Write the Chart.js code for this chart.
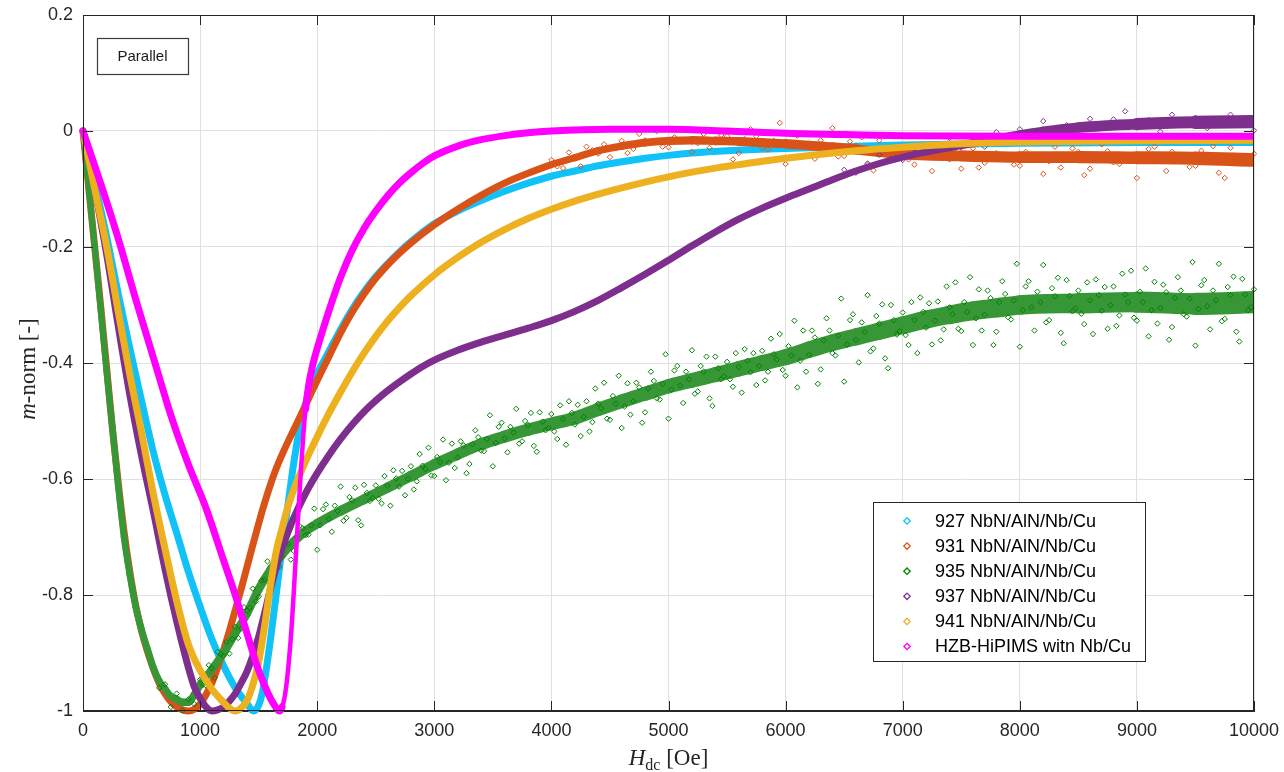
<!DOCTYPE html>
<html>
<head>
<meta charset="utf-8">
<title>m-norm vs Hdc</title>
<script src="https://cdn.jsdelivr.net/npm/chart.js@4.4.1/dist/chart.umd.min.js"></script>
<style>
  html, body { margin: 0; padding: 0; background: #fff; }
  #wrap { position: relative; width: 1284px; height: 772px; }
</style>
</head>
<body>
<div id="wrap"><canvas id="chart"></canvas></div>
<script>
const seriesNames = ['927 NbN/AlN/Nb/Cu', '931 NbN/AlN/Nb/Cu', '935 NbN/AlN/Nb/Cu', '937 NbN/AlN/Nb/Cu', '941 NbN/AlN/Nb/Cu', 'HZB-HiPIMS witn Nb/Cu'];
const seriesColors = ['#10c2f7', '#d95319', '#008000', '#7e2f8e', '#edb120', '#ff00ff'];
const xTicks = [0, 1000, 2000, 3000, 4000, 5000, 6000, 7000, 8000, 9000, 10000];
const yTicks = [-1, -0.8, -0.6, -0.4, -0.2, 0, 0.2];

// 927
const h927 = [0,100,200,300,400,500,600,700,800,900,1000,1100,1200,1300,1400,1455,1500,1530,1560,1600,1640,1680,1720,1760,1800,1850,1900,1950,2000,2100,2200,2300,2400,2500,2600,2700,2800,3000,3200,3400,3600,3800,4000,4200,4400,4600,4800,5000,5200,5500,6000,6500,7000,8000,9000,10000];
const m927 = [0,-0.09,-0.18,-0.28,-0.375,-0.465,-0.553,-0.627,-0.693,-0.76,-0.82,-0.876,-0.922,-0.96,-0.987,-1.0,-0.99,-0.97,-0.935,-0.878,-0.815,-0.75,-0.69,-0.63,-0.572,-0.512,-0.47,-0.44,-0.418,-0.38,-0.342,-0.307,-0.277,-0.251,-0.229,-0.209,-0.191,-0.16,-0.138,-0.12,-0.104,-0.09,-0.078,-0.069,-0.06,-0.053,-0.047,-0.042,-0.038,-0.034,-0.03,-0.027,-0.024,-0.021,-0.02,-0.02];

// 931
const h931 = [0,50,100,150,200,250,300,350,400,450,500,550,600,650,700,750,800,850,900,950,1000,1050,1100,1150,1200,1250,1300,1350,1400,1450,1500,1550,1600,1650,1700,1750,1800,1850,1900,1950,2000,2100,2200,2300,2400,2500,2600,2700,2800,3000,3200,3400,3600,3800,4000,4200,4400,4600,4800,5000,5200,5400,5600,5800,6000,6200,6400,6600,6800,7000,7500,8000,8500,9000,9500,10000];
const m931 = [0,-0.1,-0.2,-0.3,-0.405,-0.51,-0.605,-0.69,-0.76,-0.818,-0.862,-0.897,-0.927,-0.952,-0.97,-0.984,-0.993,-0.998,-1.0,-0.997,-0.988,-0.972,-0.952,-0.925,-0.895,-0.862,-0.826,-0.79,-0.752,-0.714,-0.677,-0.642,-0.61,-0.582,-0.558,-0.536,-0.515,-0.494,-0.473,-0.451,-0.43,-0.389,-0.348,-0.312,-0.281,-0.254,-0.231,-0.211,-0.193,-0.162,-0.135,-0.111,-0.09,-0.073,-0.058,-0.046,-0.034,-0.026,-0.02,-0.017,-0.016,-0.017,-0.018,-0.02,-0.022,-0.025,-0.028,-0.032,-0.036,-0.04,-0.043,-0.045,-0.045,-0.046,-0.047,-0.05];
const h931s = [4000,4100,4200,4300,4400,4500,4600,4700,4800,4900,5000,5100,5200,5300,5400,5500,5600,5700,5800,5900,6000,6100,6200,6300,6400,6500,6600,6700,6800,6900,7000,7100,7200,7300,7400,7500,7600,7700,7800,7900,8000,8100,8200,8300,8400,8500,8600,8700,8800,8900,9000,9100,9200,9300,9400,9500,9600,9700,9800,9900,10000];
const m931s = [-0.050,-0.064,-0.045,-0.027,-0.039,-0.045,-0.017,-0.031,-0.016,0.000,-0.028,-0.017,-0.036,-0.005,-0.020,-0.009,-0.038,0.003,-0.029,-0.017,-0.057,-0.008,-0.027,-0.016,0.005,-0.043,-0.025,-0.058,-0.016,-0.045,-0.029,-0.058,-0.039,-0.022,-0.049,-0.065,-0.030,-0.055,-0.038,-0.018,-0.060,-0.045,-0.074,-0.027,-0.049,-0.036,-0.065,-0.023,-0.054,-0.041,-0.081,-0.031,-0.049,-0.036,-0.014,-0.060,-0.041,-0.072,-0.029,-0.056,-0.039];
const h931b = [4050,4150,4250,4350,4450,4550,4650,4750,4850,4950,5050,5150,5250,5350,5450,5550,5650,5750,5850,5950,6050,6150,6250,6350,6450,6550,6650,6750,6850,6950,7050,7150,7250,7350,7450,7550,7650,7750,7850,7950,8050,8150,8250,8350,8450,8550,8650,8750,8850,8950,9050,9150,9250,9350,9450,9550,9650,9750,9850,9950];
const m931b = [-0.061,-0.037,-0.061,-0.033,-0.023,-0.030,-0.038,-0.005,-0.019,-0.027,-0.011,0.004,-0.021,-0.029,-0.007,-0.049,-0.014,-0.009,-0.032,0.014,-0.027,-0.004,-0.048,-0.025,-0.044,-0.018,-0.011,-0.068,-0.030,-0.043,-0.049,-0.024,-0.069,-0.036,-0.030,-0.045,-0.063,-0.020,-0.044,-0.058,-0.036,-0.016,-0.052,-0.063,-0.030,-0.076,-0.041,-0.035,-0.057,-0.011,-0.051,-0.027,-0.069,-0.045,-0.062,-0.034,-0.026,-0.081,-0.043,-0.054];

// 935
const h935 = [0,50,100,150,200,250,300,350,400,450,500,550,600,650,700,750,800,850,900,950,1000,1100,1200,1300,1400,1500,1600,1700,1800,1900,2000,2200,2400,2600,2800,3000,3200,3400,3600,3800,4000,4200,4400,4600,4800,5000,5200,5400,5600,5800,6000,6200,6400,6600,6800,7000,7200,7400,7600,7800,8000,8500,9000,9500,10000];
const m935 = [0,-0.1,-0.2,-0.305,-0.41,-0.51,-0.61,-0.7,-0.765,-0.82,-0.86,-0.893,-0.925,-0.948,-0.962,-0.975,-0.98,-0.985,-0.985,-0.972,-0.955,-0.928,-0.9,-0.866,-0.832,-0.79,-0.757,-0.73,-0.708,-0.69,-0.677,-0.655,-0.635,-0.615,-0.595,-0.575,-0.557,-0.54,-0.527,-0.515,-0.505,-0.495,-0.48,-0.466,-0.453,-0.44,-0.43,-0.42,-0.41,-0.4,-0.39,-0.377,-0.365,-0.355,-0.345,-0.335,-0.325,-0.317,-0.31,-0.305,-0.3,-0.297,-0.295,-0.298,-0.295];
const h935s = [650,700,750,800,850,900,950,
  1000,1050,1100,1150,1200,1250,1300,1350,1400,1450,1500,1550,1600,1650,1700,1750,1800,1850,1900,1950,
  2000,2050,2100,2150,2200,2250,2300,2350,2400,2450,2500,2550,2600,2650,2700,2750,2800,2850,2900,2950,
  3000,3050,3100,3150,3200,3250,3300,3350,3400,3450,3500,3550,3600,3650,3700,3750,3800,3850,3900,3950,
  4000,4050,4100,4150,4200,4250,4300,4350,4400,4450,4500,4550,4600,4650,4700,4750,4800,4850,4900,4950,
  5000,5050,5100,5150,5200,5250,5300,5350,5400,5450,5500,5550,5600,5650,5700,5750,5800,5850,5900,5950,
  6000,6050,6100,6150,6200,6250,6300,6350,6400,6450,6500,6550,6600,6650,6700,6750,6800,6850,6900,6950,
  7000,7050,7100,7150,7200,7250,7300,7350,7400,7450,7500,7550,7600,7650,7700,7750,7800,7850,7900,7950,
  8000,8050,8100,8150,8200,8250,8300,8350,8400,8450,8500,8550,8600,8650,8700,8750,8800,8850,8900,8950,
  9000,9050,9100,9150,9200,9250,9300,9350,9400,9450,9500,9550,9600,9650,9700,9750,9800,9850,9900,9950,
  10000];
const m935s = [-0.960,-0.954,-0.993,-0.970,-0.999,-0.980,-0.988,
  -0.946,-0.956,-0.926,-0.898,-0.905,-0.901,-0.855,-0.858,-0.827,-0.789,
  -0.803,-0.774,-0.780,-0.729,-0.734,-0.712,-0.724,-0.681,-0.697,-0.680,
  -0.722,-0.652,-0.669,-0.646,-0.613,-0.667,-0.637,-0.671,-0.610,-0.638,
  -0.611,-0.642,-0.612,-0.585,-0.613,-0.628,-0.578,-0.604,-0.577,-0.546,
  -0.595,-0.571,-0.602,-0.539,-0.563,-0.542,-0.574,-0.516,-0.551,-0.531,
  -0.578,-0.510,-0.530,-0.510,-0.479,-0.535,-0.507,-0.543,-0.485,-0.516,
  -0.488,-0.531,-0.497,-0.466,-0.506,-0.526,-0.466,-0.502,-0.470,-0.434,
  -0.498,-0.470,-0.512,-0.435,-0.466,-0.442,-0.485,-0.415,-0.461,-0.436,
  -0.496,-0.413,-0.439,-0.415,-0.378,-0.449,-0.415,-0.461,-0.389,-0.428,
  -0.398,-0.441,-0.407,-0.376,-0.416,-0.438,-0.379,-0.415,-0.385,-0.350,
  -0.422,-0.387,-0.442,-0.344,-0.386,-0.356,-0.411,-0.323,-0.383,-0.353,
  -0.432,-0.326,-0.360,-0.330,-0.283,-0.375,-0.332,-0.392,-0.300,-0.351,
  -0.313,-0.369,-0.326,-0.287,-0.339,-0.368,-0.294,-0.342,-0.304,-0.261,
  -0.345,-0.312,-0.369,-0.273,-0.317,-0.288,-0.346,-0.259,-0.321,-0.292,
  -0.372,-0.268,-0.304,-0.277,-0.231,-0.326,-0.285,-0.348,-0.257,-0.311,
  -0.275,-0.333,-0.292,-0.256,-0.310,-0.341,-0.268,-0.318,-0.282,-0.241,
  -0.327,-0.295,-0.354,-0.260,-0.305,-0.278,-0.338,-0.252,-0.316,-0.289,
  -0.370,-0.266,-0.302,-0.275,-0.229,-0.324,-0.283,-0.346,-0.255,-0.309,
  -0.273];
const h935b = [1025,1075,1125,1175,1225,1275,1325,1375,1425,1475,1525,1575,1625,1675,1725,1775,1825,1875,1925,1975,
  2025,2075,2125,2175,2225,2275,2325,2375,2425,2475,2525,2575,2625,2675,2725,2775,2825,2875,2925,2975,
  3025,3075,3125,3175,3225,3275,3325,3375,3425,3475,3525,3575,3625,3675,3725,3775,3825,3875,3925,3975,
  4025,4075,4125,4175,4225,4275,4325,4375,4425,4475,4525,4575,4625,4675,4725,4775,4825,4875,4925,4975,
  5025,5075,5125,5175,5225,5275,5325,5375,5425,5475,5525,5575,5625,5675,5725,5775,5825,5875,5925,5975,
  6025,6075,6125,6175,6225,6275,6325,6375,6425,6475,6525,6575,6625,6675,6725,6775,6825,6875,6925,6975,
  7025,7075,7125,7175,7225,7275,7325,7375,7425,7475,7525,7575,7625,7675,7725,7775,7825,7875,7925,7975,
  8025,8075,8125,8175,8225,8275,8325,8375,8425,8475,8525,8575,8625,8675,8725,8775,8825,8875,8925,8975,
  9025,9075,9125,9175,9225,9275,9325,9375,9425,9475,9525,9575,9625,9675,9725,9775,9825,9875,9925,9975];
const m935b = [-0.955,-0.921,-0.943,-0.902,-0.881,-0.876,-0.874,-0.821,-0.822,-0.811,-0.775,-0.742,-0.755,-0.751,-0.712,-0.739,-0.700,-0.685,-0.696,-0.651,
  -0.680,-0.644,-0.691,-0.655,-0.672,-0.631,-0.615,-0.680,-0.624,-0.633,-0.634,-0.595,-0.646,-0.599,-0.586,-0.600,-0.618,-0.557,-0.583,-0.594,
  -0.562,-0.532,-0.572,-0.581,-0.535,-0.590,-0.540,-0.528,-0.552,-0.490,-0.538,-0.503,-0.554,-0.520,-0.539,-0.500,-0.486,-0.553,-0.501,-0.512,
  -0.518,-0.473,-0.541,-0.486,-0.472,-0.493,-0.518,-0.444,-0.478,-0.496,-0.457,-0.422,-0.475,-0.489,-0.434,-0.503,-0.444,-0.431,-0.463,-0.385,
  -0.446,-0.405,-0.469,-0.428,-0.453,-0.405,-0.389,-0.474,-0.409,-0.423,-0.428,-0.383,-0.451,-0.396,-0.383,-0.405,-0.430,-0.358,-0.394,-0.412,
  -0.371,-0.327,-0.396,-0.415,-0.344,-0.436,-0.361,-0.344,-0.387,-0.289,-0.368,-0.316,-0.399,-0.347,-0.380,-0.319,-0.299,-0.409,-0.326,-0.345,
  -0.352,-0.295,-0.383,-0.312,-0.297,-0.327,-0.361,-0.268,-0.316,-0.341,-0.295,-0.252,-0.323,-0.344,-0.275,-0.369,-0.295,-0.281,-0.325,-0.229,
  -0.309,-0.259,-0.344,-0.295,-0.330,-0.271,-0.253,-0.366,-0.284,-0.306,-0.315,-0.261,-0.350,-0.283,-0.269,-0.300,-0.336,-0.246,-0.295,-0.322,
  -0.277,-0.237,-0.309,-0.332,-0.265,-0.360,-0.288,-0.275,-0.320,-0.226,-0.307,-0.257,-0.342,-0.292,-0.328,-0.269,-0.251,-0.363,-0.282,-0.304];

// 937
const h937 = [0,100,200,300,400,500,600,700,800,900,950,1000,1050,1100,1150,1200,1250,1300,1350,1400,1450,1500,1550,1600,1650,1700,1750,1800,1900,2000,2100,2200,2300,2400,2500,2600,2700,2800,2900,3000,3200,3400,3600,3800,4000,4200,4400,4600,4800,5000,5200,5400,5600,5800,6000,6200,6400,6600,6800,7000,7200,7400,7600,7800,8000,8200,8500,9000,9500,10000];
const m937 = [0,-0.1,-0.21,-0.335,-0.455,-0.56,-0.655,-0.755,-0.845,-0.925,-0.958,-0.978,-0.993,-1.0,-0.998,-0.993,-0.983,-0.97,-0.952,-0.932,-0.905,-0.872,-0.832,-0.79,-0.752,-0.72,-0.692,-0.667,-0.625,-0.59,-0.559,-0.531,-0.506,-0.484,-0.465,-0.448,-0.433,-0.419,-0.406,-0.395,-0.378,-0.364,-0.352,-0.34,-0.327,-0.311,-0.292,-0.27,-0.247,-0.223,-0.198,-0.174,-0.152,-0.133,-0.116,-0.1,-0.084,-0.069,-0.056,-0.045,-0.036,-0.028,-0.021,-0.014,-0.007,-0.001,0.006,0.012,0.015,0.016];
const h937s = [6500,6600,6700,6800,6900,7000,7100,7200,7300,7400,7500,7600,7700,7800,7900,8000,8100,8200,8300,8400,8500,8600,8700,8800,8900,9000,9100,9200,9300,9400,9500,9600,9700,9800,9900,10000];
const m937s = [-0.067,-0.072,-0.056,-0.041,-0.048,-0.050,-0.030,-0.037,-0.025,-0.012,-0.028,-0.017,-0.027,-0.002,-0.009,0.003,-0.013,0.017,-0.001,0.010,-0.012,0.021,0.011,0.020,0.034,0.006,0.019,-0.001,0.028,0.011,0.023,0.005,0.017,0.028,0.011,0.001];

// 941
const h941 = [0,100,200,300,400,500,600,700,800,900,1000,1100,1200,1250,1300,1350,1400,1450,1500,1550,1600,1650,1700,1750,1800,1900,2000,2100,2200,2300,2400,2500,2600,2700,2800,3000,3200,3400,3600,3800,4000,4200,4400,4600,4800,5000,5200,5400,5600,5800,6000,6300,6600,7000,7500,8000,9000,10000];
const m941 = [0,-0.1,-0.197,-0.31,-0.42,-0.52,-0.625,-0.72,-0.81,-0.885,-0.93,-0.962,-0.985,-0.995,-1.0,-0.995,-0.982,-0.955,-0.915,-0.855,-0.785,-0.725,-0.685,-0.648,-0.618,-0.57,-0.527,-0.487,-0.45,-0.415,-0.383,-0.354,-0.328,-0.305,-0.284,-0.248,-0.218,-0.192,-0.17,-0.151,-0.135,-0.121,-0.109,-0.098,-0.088,-0.079,-0.071,-0.064,-0.058,-0.052,-0.047,-0.04,-0.034,-0.028,-0.022,-0.019,-0.017,-0.016];

// HZB-HiPIMS
const hHzb = [0,150,300,450,600,750,900,1050,1200,1300,1400,1500,1570,1620,1680,1700,1720,1740,1760,1780,1800,1820,1840,1860,1880,1900,1930,1960,2000,2100,2200,2300,2400,2500,2600,2700,2800,2900,3000,3200,3400,3600,3800,4000,4500,5000,5500,6000,6500,7000,8000,9000,10000];
const mHzb = [0,-0.09,-0.185,-0.29,-0.39,-0.49,-0.575,-0.65,-0.74,-0.8,-0.866,-0.93,-0.965,-0.985,-1.0,-0.993,-0.978,-0.95,-0.91,-0.86,-0.795,-0.725,-0.655,-0.588,-0.528,-0.48,-0.435,-0.405,-0.375,-0.31,-0.252,-0.205,-0.168,-0.138,-0.112,-0.09,-0.072,-0.056,-0.043,-0.026,-0.015,-0.008,-0.003,0.0,0.003,0.003,0.0,-0.004,-0.006,-0.008,-0.009,-0.009,-0.009];

const toPoints = (hs, ms) => hs.map((h, i) => ({ x: h, y: ms[i] }));

function curve(idx, hs, ms, order, width) {
    return {
        label: seriesNames[idx],
        data: toPoints(hs, ms),
        showLine: true,
        borderColor: seriesColors[idx],
        backgroundColor: seriesColors[idx],
        borderWidth: width || 7,
        pointRadius: 0,
        cubicInterpolationMode: 'monotone',
        borderCapStyle: 'round',
        borderJoinStyle: 'round',
        order: order,
        clip: { left: 6, top: 6, bottom: 6, right: 0 }
    };
}

function cloud(idx, hs, ms, order) {
    return {
        label: seriesNames[idx] + ' (scatter)',
        data: toPoints(hs, ms),
        showLine: false,
        pointStyle: 'rectRot',
        pointRadius: 2.7,
        pointBorderWidth: 1,
        pointBorderColor: seriesColors[idx],
        pointBackgroundColor: 'rgba(255,255,255,0)',
        borderColor: seriesColors[idx],
        order: order,
        clip: { left: 6, top: 6, bottom: 6, right: 3 }
    };
}

// noisy tails: the measured clouds widen with field
const orangeCore = curve(1, h931, m931, 12);
orangeCore.segment = { borderWidth: c => 7 + Math.max(0, c.p0.parsed.x - 4000) * 0.0012 };
const greenCore = curve(2, h935, m935, 9);
greenCore.borderColor = '#379737';
greenCore.segment = { borderWidth: c => 6 + c.p0.parsed.x * 0.0017 };
const purpleCore = curve(3, h937, m937, 7);
purpleCore.segment = { borderWidth: c => 7 + Math.max(0, c.p0.parsed.x - 7000) * 0.0025 };
// the steep recovery was sampled sparsely, so it reads thinner
const magentaCore = curve(5, hHzb, mHzb, 4);
magentaCore.segment = { borderWidth: c => (c.p0.parsed.x >= 1700 && c.p1.parsed.x <= 1900) ? 4.5 : 7 };

const datasets = [
    curve(0, h927, m927, 13),
    orangeCore,
    cloud(1, h931s, m931s, 11),
    cloud(1, h931b, m931b, 10),
    greenCore,
    cloud(2, h935s, m935s, 8.5),
    cloud(2, h935b, m935b, 8),
    purpleCore,
    cloud(3, h937s, m937s, 6),
    curve(4, h941, m941, 5),
    magentaCore
];

const sans = '"Liberation Sans", Arial, Helvetica, sans-serif';
const serif = '"Liberation Serif", "Times New Roman", serif';

// ticks inside the box, frame, notes, legend and axis titles
const decor = {
    id: 'decor',
    afterDatasetsDraw(chart) {
        const { ctx, chartArea: a, scales: { x, y } } = chart;
        ctx.save();
        ctx.strokeStyle = '#262626';
        ctx.lineWidth = 1;
        ctx.beginPath();
        xTicks.forEach(v => {
            const px = Math.round(x.getPixelForValue(v)) + 0.5;
            ctx.moveTo(px, a.bottom); ctx.lineTo(px, a.bottom - 10);
            ctx.moveTo(px, a.top); ctx.lineTo(px, a.top + 10);
        });
        yTicks.forEach(v => {
            const py = Math.round(y.getPixelForValue(v)) + 0.5;
            ctx.moveTo(a.left, py); ctx.lineTo(a.left + 10, py);
            ctx.moveTo(a.right, py); ctx.lineTo(a.right - 10, py);
        });
        ctx.stroke();
        ctx.strokeRect(a.left + 0.5, a.top + 0.5, a.right - a.left - 1, a.bottom - a.top - 1);
        ctx.restore();
    },
    afterDraw(chart) {
        const { ctx, chartArea: a } = chart;
        ctx.save();

        // "Parallel" note
        ctx.fillStyle = '#fff';
        ctx.fillRect(97, 38, 91, 36);
        ctx.strokeStyle = '#3a3a3a';
        ctx.lineWidth = 1.2;
        ctx.strokeRect(97.5, 38.5, 91, 36);
        ctx.fillStyle = '#1a1a1a';
        ctx.font = '15px ' + sans;
        ctx.textAlign = 'center';
        ctx.textBaseline = 'middle';
        ctx.fillText('Parallel', 142.5, 57);

        // legend
        const lx = 873.5, ly = 502.5, lw = 272, lh = 159;
        ctx.fillStyle = '#fff';
        ctx.fillRect(lx, ly, lw, lh);
        ctx.strokeStyle = '#262626';
        ctx.lineWidth = 1;
        ctx.strokeRect(lx, ly, lw, lh);
        ctx.font = '18px ' + sans;
        ctx.textAlign = 'left';
        seriesNames.forEach((name, i) => {
            const cy = 521 + i * 25.1;
            const r = 3.2;
            ctx.strokeStyle = seriesColors[i];
            ctx.lineWidth = 1.3;
            ctx.beginPath();
            ctx.moveTo(907, cy - r); ctx.lineTo(907 + r, cy);
            ctx.lineTo(907, cy + r); ctx.lineTo(907 - r, cy);
            ctx.closePath();
            ctx.stroke();
            ctx.fillStyle = '#000';
            ctx.fillText(name, 935, cy + 1);
        });

        // x title: H_dc [Oe]
        ctx.fillStyle = '#262626';
        ctx.textBaseline = 'alphabetic';
        ctx.textAlign = 'left';
        const xParts = [
            { t: 'H', f: 'italic 23px ' + serif, dy: 0 },
            { t: 'dc', f: '16px ' + serif, dy: 5 },
            { t: ' [Oe]', f: '23px ' + serif, dy: 0 }
        ];
        let total = 0;
        xParts.forEach(p => { ctx.font = p.f; p.w = ctx.measureText(p.t).width; total += p.w; });
        let cx = (a.left + a.right) / 2 - total / 2;
        xParts.forEach(p => { ctx.font = p.f; ctx.fillText(p.t, cx, 765 + p.dy); cx += p.w; });

        // y title: m-norm [-]
        const yParts = [
            { t: 'm', f: 'italic 23px ' + serif },
            { t: '-norm [-]', f: '23px ' + serif }
        ];
        total = 0;
        yParts.forEach(p => { ctx.font = p.f; p.w = ctx.measureText(p.t).width; total += p.w; });
        ctx.translate(35, 369);
        ctx.rotate(-Math.PI / 2);
        let cxy = -total / 2;
        yParts.forEach(p => { ctx.font = p.f; ctx.fillText(p.t, cxy, 0); cxy += p.w; });
        ctx.restore();
    }
};

const tickFont = { family: sans, size: 18 };

new Chart(document.getElementById('chart'), {
    type: 'scatter',
    data: { datasets: datasets },
    options: {
        responsive: true,
        maintainAspectRatio: false,
        animation: false,
        layout: { padding: { top: 15, right: 30, left: 0, bottom: 0 } },
        plugins: { legend: { display: false }, tooltip: { enabled: false } },
        scales: {
            x: {
                type: 'linear',
                min: 0,
                max: 10000,
                afterBuildTicks: s => { s.ticks = xTicks.map(v => ({ value: v })); },
                ticks: { font: tickFont, color: '#262626', padding: 9, maxRotation: 0, autoSkip: false, callback: v => String(v) },
                grid: { color: '#e0e0e0', drawTicks: false },
                border: { color: '#262626' },
                afterFit: s => { s.height = 61; s.paddingLeft = 0; s.paddingRight = 0; }
            },
            y: {
                type: 'linear',
                min: -1,
                max: 0.2,
                afterBuildTicks: s => { s.ticks = yTicks.map(v => ({ value: v })); },
                ticks: { font: tickFont, color: '#262626', padding: 10, callback: v => String(+v.toFixed(1)) },
                grid: { color: '#e0e0e0', drawTicks: false },
                border: { color: '#262626' },
                afterFit: s => { s.width = 83; s.paddingTop = 0; s.paddingBottom = 0; }
            }
        }
    },
    plugins: [decor]
});
</script>
</body>
</html>
